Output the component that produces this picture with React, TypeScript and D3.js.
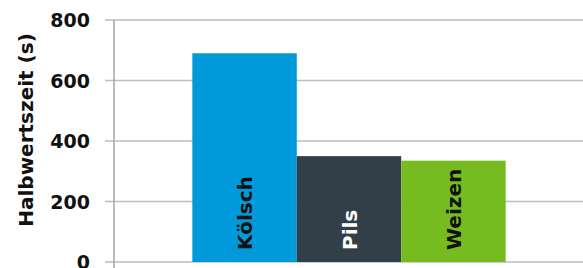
import React from "react";
import * as d3 from "d3";

const categories = ["Kölsch", "Pils", "Weizen"];
const values = [690, 350, 335];
const colors = ["#009ADA", "#333F48", "#76BC21"];
const labelColors = ["#111111", "#FFFFFF", "#111111"];
const yTicks = [0, 200, 400, 600, 800];
const yTitle = "Halbwertszeit (s)";

const W = 583;
const H = 268;
const left = 114;
const right = 584;
const top = 20;
const bottom = 262;
const font = "'DejaVu Sans', sans-serif";

export default function App() {
  const y = d3.scaleLinear().domain([0, 800]).range([bottom, top]);
  const groupW = (right - left) / 1.5;
  const x = d3
    .scaleBand<string>()
    .domain(categories)
    .range([(left + right) / 2 - groupW / 2, (left + right) / 2 + groupW / 2])
    .padding(0);
  return (
    <svg
      width={W}
      height={H}
      style={{ position: "absolute", left: 0, top: 0, background: "#fff" }}
    >
      {yTicks.map((t) => (
        <g key={t}>
          <line x1={105} x2={W} y1={y(t)} y2={y(t)} stroke="#BDBDBD" strokeWidth={1.5} />
          <text
            x={90}
            y={y(t)}
            textAnchor="end"
            dominantBaseline="central"
            fontFamily={font}
            fontWeight="bold"
            fontSize={19}
            fill="#111"
          >
            {t}
          </text>
        </g>
      ))}
      <line x1={left} x2={left} y1={top} y2={H} stroke="#A6A6A6" strokeWidth={1.5} />
      {categories.map((c, i) => (
        <g key={c}>
          <rect
            x={x(c)}
            y={y(values[i])}
            width={x.bandwidth()}
            height={y(0) - y(values[i])}
            fill={colors[i]}
          />
          <text
            transform={`translate(${x(c)! + x.bandwidth() / 2 + 7.5},${bottom - 12}) rotate(-90)`}
            fontFamily={font}
            fontWeight="bold"
            fontSize={20}
            fill={labelColors[i]}
          >
            {c}
          </text>
        </g>
      ))}
      <text
        transform={`translate(33,130) rotate(-90)`}
        textAnchor="middle"
        fontFamily={font}
        fontWeight="bold"
        fontSize={20}
        fill="#111"
      >
        {yTitle}
      </text>
    </svg>
  );
}
